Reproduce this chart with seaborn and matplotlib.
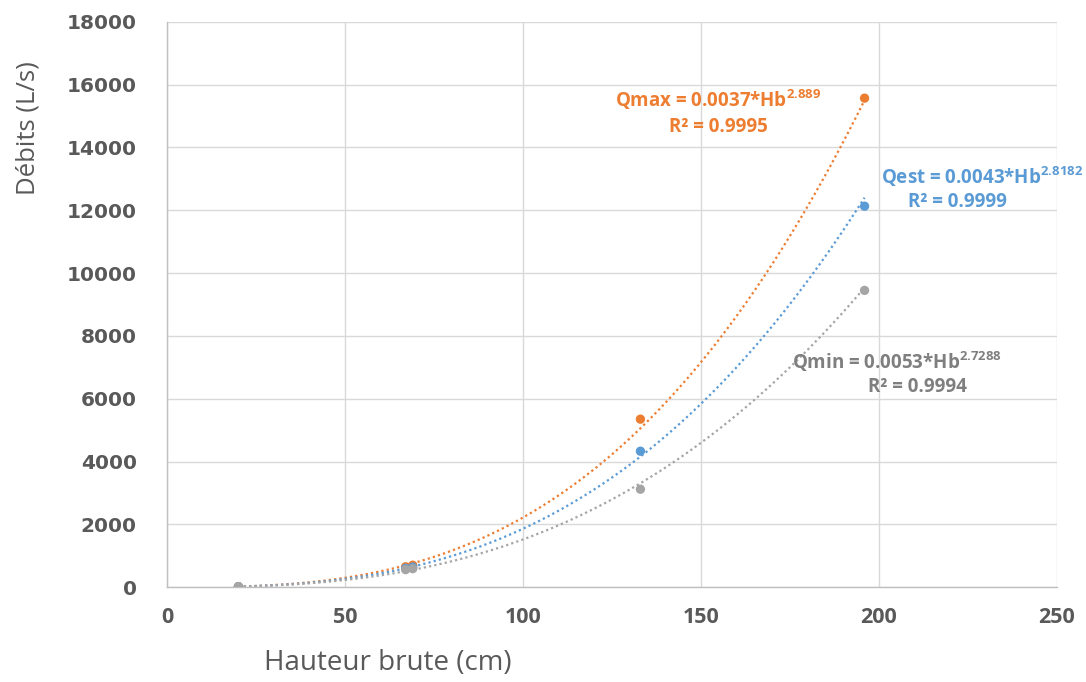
import numpy as np
import pandas as pd
import seaborn as sns
import matplotlib
matplotlib.use('Agg')
import matplotlib.pyplot as plt

# ---- data ----
hauteur = [20, 67, 69, 133, 196]
q_max = [20, 650, 700, 5350, 15570]
q_est = [18, 600, 640, 4330, 12130]
q_min = [16, 560, 590, 3120, 9450]

# power trendlines shown on the chart: Q = a * Hb^b
fit_max = (0.0037, 2.889)
fit_est = (0.0043, 2.8182)
fit_min = (0.0053, 2.7288)

series = ['Qmax', 'Qest', 'Qmin']
colors = {'Qmax': '#ED7D31', 'Qest': '#5B9BD5', 'Qmin': '#A5A5A5'}
txt_colors = {'Qmax': '#ED7D31', 'Qest': '#5B9BD5', 'Qmin': '#7F7F7F'}
r2 = {'Qmax': '0.9995', 'Qest': '0.9999', 'Qmin': '0.9994'}
fits = {'Qmax': fit_max, 'Qest': fit_est, 'Qmin': fit_min}

x_ticks = [0, 50, 100, 150, 200, 250]
y_ticks = list(range(0, 18001, 2000))

pts = pd.DataFrame({'Hb': hauteur * 3,
                    'Q': q_max + q_est + q_min,
                    'serie': ['Qmax'] * 5 + ['Qest'] * 5 + ['Qmin'] * 5})

xs = np.linspace(min(hauteur), max(hauteur), 200)
curves = pd.concat([pd.DataFrame({'Hb': xs, 'Q': fits[s][0] * xs ** fits[s][1], 'serie': s})
                    for s in series])

sns.set_theme(style='white')
plt.rcParams['mathtext.default'] = 'regular'
plt.rcParams['font.family'] = ['DejaVu Sans']

fig = plt.figure(figsize=(10.86, 6.82), dpi=100)
ax = fig.add_axes([0.154, 0.139, 0.819, 0.829])

for s in series:
  sns.lineplot(data=curves[curves.serie == s], x='Hb', y='Q', color=colors[s],
               lw=1.6, linestyle=(0, (1, 1.4)), ax=ax, zorder=2)
for s in series:
  sns.scatterplot(data=pts[pts.serie == s], x='Hb', y='Q', color=colors[s],
                  s=45, edgecolor='none', ax=ax, zorder=3)

ax.set_xlim(0, 250)
ax.set_ylim(0, 18000)
ax.set_xticks(x_ticks)
ax.set_yticks(y_ticks)
ax.set_xticklabels([str(t) for t in x_ticks], fontsize=15.5, fontweight='bold',
                   color='#595959', family='Open Sans')
ax.set_yticklabels([str(t) for t in y_ticks], fontsize=14.5, fontweight='bold',
                   color='#595959')
ax.tick_params(axis='x', pad=14, length=0)
ax.tick_params(axis='y', pad=22, length=0)
ax.grid(True, color='#D9D9D9', lw=1)
ax.set_axisbelow(True)
for side in ['top', 'right']:
  ax.spines[side].set_visible(False)
for side in ['left', 'bottom']:
  ax.spines[side].set_color('#BFBFBF')
  ax.spines[side].set_linewidth(1)
ax.set_xlabel('')
ax.set_ylabel('')

fig.text(28 / 1086, 1 - 128 / 682, 'Débits (L/s)', rotation=90, ha='center', va='center',
         fontsize=18.5, color='#595959', family='Open Sans')
fig.text(388 / 1086, 1 - 663 / 682, 'Hauteur brute (cm)', ha='center', va='center',
         fontsize=20, color='#595959', family='Open Sans')

# equation labels
labels = {'Qmax': (718, 100, 718, 127), 'Qest': (982, 177, 957, 202), 'Qmin': (897, 362, 917, 387)}
for s in series:
  a, b = fits[s]
  x1, y1, x2, y2 = labels[s]
  fig.text(x1 / 1086, 1 - y1 / 682, '%s = %s*Hb$^{%s}$' % (s, a, b), ha='center', va='center',
           fontsize=13.5, fontweight='bold', color=txt_colors[s], family='Open Sans')
  fig.text(x2 / 1086, 1 - y2 / 682, 'R² = %s' % r2[s], ha='center', va='center',
           fontsize=13.5, fontweight='bold', color=txt_colors[s], family='Open Sans')

plt.savefig('out.png', dpi=100)
